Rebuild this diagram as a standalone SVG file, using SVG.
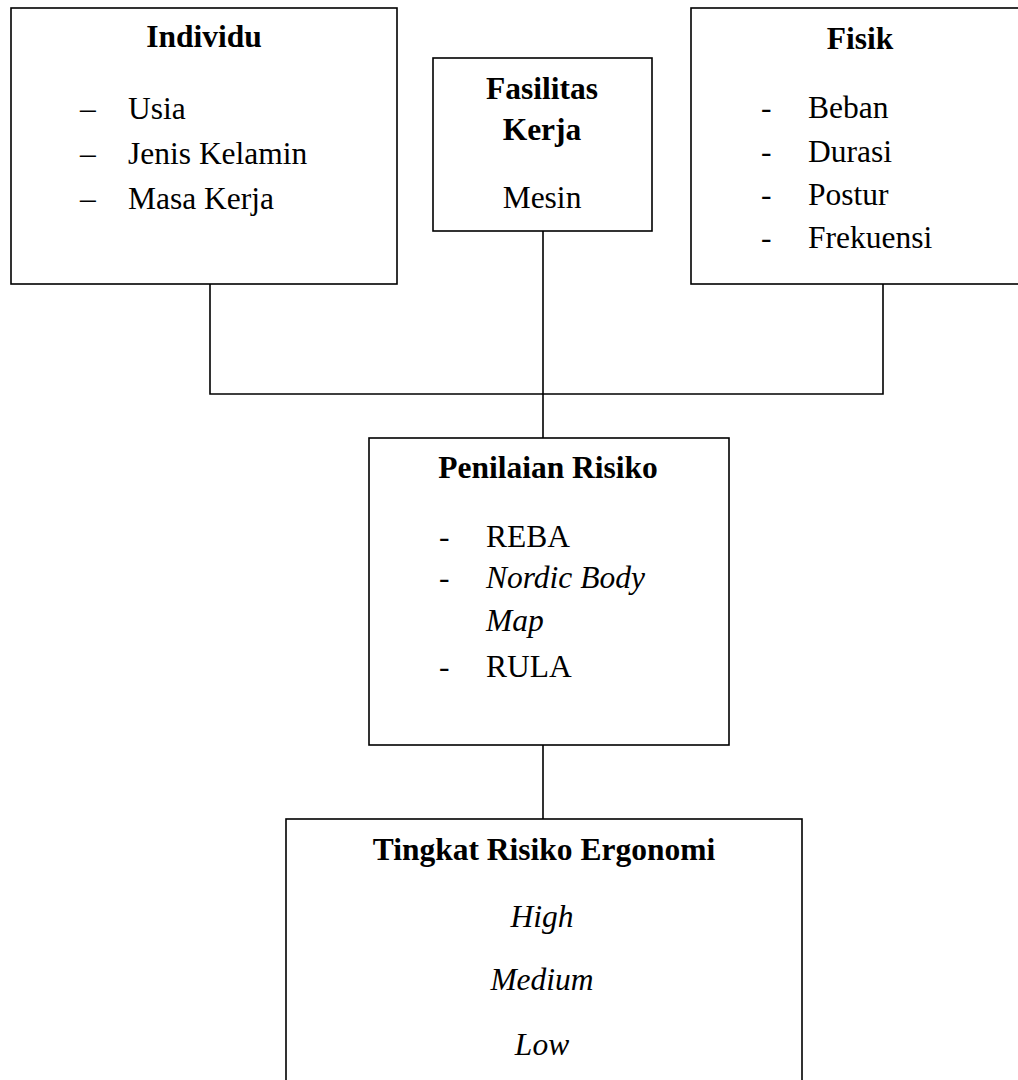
<svg xmlns="http://www.w3.org/2000/svg" width="1018" height="1080" viewBox="0 0 1018 1080">
<style>
.box{fill:#fff;stroke:#000;stroke-width:1.6}
.ln{fill:none;stroke:#000;stroke-width:1.6}
text{font-family:'Liberation Serif','Times New Roman',serif;font-size:31.5px;fill:#000}
.b{font-weight:bold}
.i{font-style:italic}
.c{text-anchor:middle}
</style>
<rect width="1018" height="1080" fill="#fff"/>
<g id="connectors">
<path class="ln" d="M210 284V394H883V284M543 231V438M543 745V819"/>
</g>
<g id="individu">
<rect class="box" x="11" y="8" width="386" height="276"/>
<text class="b c" x="204" y="47">Individu</text>
<text x="80" y="119">–</text><text x="128" y="119">Usia</text>
<text x="80" y="164">–</text><text x="128" y="164">Jenis Kelamin</text>
<text x="80" y="209">–</text><text x="128" y="209">Masa Kerja</text>
</g>
<g id="fasilitas">
<rect class="box" x="433" y="58" width="219" height="173"/>
<text class="b c" x="542" y="99">Fasilitas</text>
<text class="b c" x="542" y="140">Kerja</text>
<text class="c" x="542" y="208">Mesin</text>
</g>
<g id="fisik">
<rect class="box" x="691" y="8" width="338" height="276"/>
<text class="b c" x="860" y="49">Fisik</text>
<text x="761" y="118">-</text><text x="808" y="118">Beban</text>
<text x="761" y="162">-</text><text x="808" y="162">Durasi</text>
<text x="761" y="205">-</text><text x="808" y="205">Postur</text>
<text x="761" y="248">-</text><text x="808" y="248">Frekuensi</text>
</g>
<g id="penilaian">
<rect class="box" x="369" y="438" width="360" height="307"/>
<text class="b c" x="548" y="478">Penilaian Risiko</text>
<text x="439" y="547">-</text><text x="486" y="547">REBA</text>
<text x="439" y="588">-</text><text class="i" x="486" y="588">Nordic Body</text>
<text class="i" x="486" y="631">Map</text>
<text x="439" y="677">-</text><text x="486" y="677">RULA</text>
</g>
<g id="tingkat">
<rect class="box" x="286" y="819" width="516" height="280"/>
<text class="b c" x="544" y="860">Tingkat Risiko Ergonomi</text>
<text class="i c" x="542" y="927">High</text>
<text class="i c" x="542" y="990">Medium</text>
<text class="i c" x="542" y="1055">Low</text>
</g>
</svg>
